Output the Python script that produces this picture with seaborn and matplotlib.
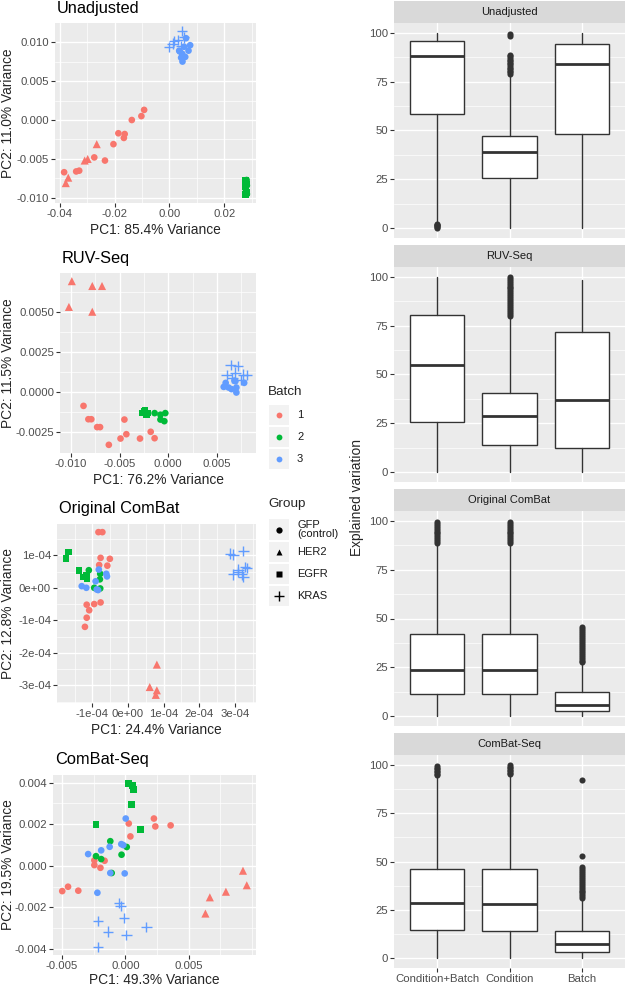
import numpy as np
import pandas as pd
import matplotlib
matplotlib.use("Agg")
import matplotlib.pyplot as plt
from matplotlib.patches import Rectangle
from matplotlib.ticker import AutoMinorLocator
import seaborn as sns

### ------------------- data: PCA scores -------------------------------------------
# order of points in every panel: batch1 GFP, batch1 HER2, batch2 EGFR, batch2 GFP, batch3 GFP, batch3 KRAS
unadj_counts = [12, 5, 6, 6, 10, 7]
unadj_pc1 = [-0.0092, -0.0102, -0.0137, -0.0186, -0.0163, -0.0166, -0.0204, -0.0235, -0.0274, -0.0384, -0.0340, -0.0329,
             -0.0265, -0.0298, -0.0309, -0.0369, -0.0378,
             0.0279, 0.0281, 0.0278, 0.0280, 0.0282, 0.0279,
             0.0282, 0.0280, 0.0283, 0.0278, 0.0281, 0.0283,
             0.0036, 0.0061, 0.0076, 0.0070, 0.0054, 0.0043, 0.0048, 0.0058, 0.0047, 0.0038,
             0.0047, 0.0018, 0.0000, 0.0012, 0.0053, 0.0032, 0.0044]
unadj_pc2 = [0.0013, 0.0005, 0.0000, -0.0017, -0.0018, -0.0023, -0.0031, -0.0052, -0.0048, -0.0067, -0.0066, -0.0065,
             -0.0031, -0.0050, -0.0052, -0.0074, -0.0081,
             -0.0078, -0.0082, -0.0086, -0.0089, -0.0093, -0.0096,
             -0.0077, -0.0080, -0.0084, -0.0088, -0.0091, -0.0095,
             0.0089, 0.0105, 0.0096, 0.0089, 0.0094, 0.0080, 0.0075, 0.0081, 0.0085, 0.0088,
             0.0114, 0.0101, 0.0094, 0.0098, 0.0106, 0.0103, 0.0095]

ruv_counts = [12, 5, 5, 5, 9, 8]
ruv_pc1 = [-0.0087, -0.0082, -0.0079, -0.0073, -0.0070, -0.0061, -0.0049, -0.0045, -0.0043, -0.0029, -0.0018, -0.0014,
           -0.0099, -0.0078, -0.0068, -0.0102, -0.0078,
           -0.0024, -0.0027, -0.0021, -0.0025, -0.0022,
           -0.0014, -0.0008, -0.0003, -0.0008, -0.0004,
           0.0057, 0.0059, 0.0062, 0.0065, 0.0068, 0.0070, 0.0070, 0.0078, 0.0069,
           0.0064, 0.0072, 0.0069, 0.0060, 0.0081, 0.0075, 0.0077, 0.0066]
ruv_pc2 = [-0.00085, -0.00168, -0.00168, -0.00217, -0.00217, -0.00327, -0.00288, -0.0017, -0.00261, -0.00288, -0.00246, -0.00286,
           0.0069, 0.0066, 0.0066, 0.0053, 0.0050,
           -0.0011, -0.0013, -0.0013, -0.0012, -0.0014,
           -0.0013, -0.0014, -0.0013, -0.0017, -0.0018,
           0.00033, 0.00058, 0.00029, 0.00019, 0.00072, 0.00029, -0.00002, 0.00058, 0.00068,
           0.0017, 0.00164, 0.00122, 0.00106, 0.00106, 0.00077, 0.0011, 0.00089]

# Original ComBat values are in units of 1e-4
combat_counts = [12, 4, 6, 5, 8, 10]
combat_pc1 = np.array([-0.83, -0.72, -0.77, -0.51, -0.81, -0.58, -0.77, -0.95, -1.16, -1.09, -1.16, -1.21,
                       0.81, 0.61, 0.81, 0.78,
                       -1.68, -1.74, -1.38, -1.25, -1.17, -1.15,
                       -1.10, -0.78, -0.79, -0.95, -0.78,
                       -0.82, -0.91, -1.30, -1.17, -0.88, -0.84, -0.61, -0.59,
                       2.87, 2.96, 3.24, 3.10, 3.29, 3.34, 2.94, 3.20, 3.24, 3.10]) * 1e-4
combat_pc2 = np.array([1.71, 1.71, 0.92, 0.89, 0.70, 0.68, -0.45, -0.50, -0.52, -0.69, -0.92, -1.20,
                       -2.36, -3.05, -3.15, -3.29,
                       1.10, 0.89, 0.54, 0.33, 0.37, 0.28,
                       0.54, 0.43, 0.26, 0.00, -0.02,
                       0.56, 0.20, 0.05, 0.00, -0.05, -0.07, 0.43, 0.35,
                       1.05, 1.02, 1.14, 0.56, 0.63, 0.60, 0.41, 0.41, 0.34, 0.48]) * 1e-4

cseq_counts = [12, 5, 6, 6, 9, 8]
cseq_pc1 = [0.00027, 0.00226, 0.00237, 0.00358, 0.00040, -0.00245, -0.00245, -0.00164, -0.00197, -0.00453, -0.00372, -0.00499,
            0.0093, 0.0096, 0.00795, 0.00668, 0.00633,
            0.00024, 0.00059, 0.00062, 0.00051, -0.00232, 0.00121,
            -0.00119, 0.00011, -0.0003, -0.00232, -0.00191, -0.00108,
            0.00003, -0.00191, -0.00124, -0.00294, -0.00032, -0.00016, -0.00119, -0.00005, -0.00221,
            -0.00051, -0.00038, -0.00013, -0.00218, -0.00135, 0.00008, 0.00167, -0.00218]
cseq_pc2 = [0.00203, 0.00227, 0.00189, 0.00194, 0.00141, 0.00026, 0.00003, 0.00024, -0.00010, -0.00101, -0.00120, -0.00122,
            -0.00024, -0.00094, -0.00125, -0.00152, -0.0023,
            0.00397, 0.00386, 0.00368, 0.00294, 0.00197, 0.00174,
            0.00118, 0.0009, 0.00053, 0.00046, 0.00032, -0.00035,
            0.00227, 0.00074, 0.00091, 0.00056, 0.00104, 0.00099, -0.00035, -0.00037, -0.0013,
            -0.00178, -0.00194, -0.0025, -0.00266, -0.00317, -0.00333, -0.00294, -0.0039]

cell_order = [("1", "GFP (control)"), ("1", "HER2"), ("2", "EGFR"), ("2", "GFP (control)"), ("3", "GFP (control)"), ("3", "KRAS")]
batch_levels = ["1", "2", "3"]
group_levels = ["GFP (control)", "HER2", "EGFR", "KRAS"]
batch_colors = {"1": "#F8766D", "2": "#00BA38", "3": "#619CFF"}
group_markers = {"GFP (control)": "o", "EGFR": "s"}

pca_titles = ["Unadjusted", "RUV-Seq", "Original ComBat", "ComBat-Seq"]
pc1_labels = ["PC1: 85.4% Variance", "PC1: 76.2% Variance", "PC1: 24.4% Variance", "PC1: 49.3% Variance"]
pc2_labels = ["PC2: 11.0% Variance", "PC2: 11.5% Variance", "PC2: 12.8% Variance", "PC2: 19.5% Variance"]
pca_xticks = [[-0.04, -0.02, 0.0, 0.02], [-0.01, -0.005, 0.0, 0.005],
              [-1e-4, 0.0, 1e-4, 2e-4, 3e-4], [-0.005, 0.0, 0.005]]
pca_xticklabels = [["-0.04", "-0.02", "0.00", "0.02"], ["-0.010", "-0.005", "0.000", "0.005"],
                   ["-1e-04", "0e+00", "1e-04", "2e-04", "3e-04"], ["-0.005", "0.000", "0.005"]]
pca_yticks = [[-0.01, -0.005, 0.0, 0.005, 0.01], [-0.0025, 0.0, 0.0025, 0.005],
              [-3e-4, -2e-4, -1e-4, 0.0, 1e-4], [-0.004, -0.002, 0.0, 0.002, 0.004]]
pca_yticklabels = [["-0.010", "-0.005", "0.000", "0.005", "0.010"], ["-0.0025", "0.0000", "0.0025", "0.0050"],
                   ["-3e-04", "-2e-04", "-1e-04", "0e+00", "1e-04"], ["-0.004", "-0.002", "0.000", "0.002", "0.004"]]

### ------------------- data: explained variation boxplots ----------------------
box_methods = ["Unadjusted", "RUV-Seq", "Original ComBat", "ComBat-Seq"]
box_terms = ["Condition+Batch", "Condition", "Batch"]
box_q1 = [[58.6, 25.6, 48.0], [25.6, 14.1, 12.2], [11.3, 11.3, 2.6], [14.6, 14.2, 3.1]]
box_med = [[88.3, 39.2, 83.8], [54.7, 28.6, 36.7], [23.6, 23.6, 6.0], [28.4, 28.3, 7.5]]
box_q3 = [[95.9, 47.0, 94.2], [80.4, 40.3, 71.5], [42.1, 42.1, 12.5], [46.2, 46.2, 14.2]]
box_lo = [[2.7, 0.0, 0.0], [0.0, 0.0, 0.0], [0.0, 0.0, 0.0], [0.0, 0.0, 0.0]]
box_hi = [[100.0, 78.5, 100.0], [100.0, 79.5, 98.5], [88.0, 88.0, 27.0], [94.0, 94.0, 30.5]]
box_fliers = [
    [[0.3, 0.7, 1.1, 1.5, 1.9, 2.3],
     [79.0, 79.8, 80.6, 81.4, 82.2, 83.0, 83.8, 84.6, 85.4, 86.2, 87.0, 88.0, 88.7, 98.6, 99.3],
     []],
    [[],
     [80.0, 81.0, 82.0, 83.0, 84.0, 85.0, 86.0, 87.0, 88.0, 89.0, 90.0, 91.0, 92.0, 93.0, 94.0, 95.0, 96.0, 97.0, 98.0, 99.0, 99.8],
     []],
    [[88.5, 89.5, 90.5, 91.5, 92.5, 93.5, 94.5, 95.5, 96.5, 97.5, 98.5, 99.5],
     [88.5, 89.5, 90.5, 91.5, 92.5, 93.5, 94.5, 95.5, 96.5, 97.5, 98.5, 99.5],
     [27.5, 28.5, 29.5, 30.5, 31.5, 32.5, 33.5, 34.5, 35.5, 36.5, 37.5, 38.5, 39.5, 40.5, 41.5, 42.5, 43.5, 44.5, 45.5]],
    [[94.5, 95.3, 96.1, 96.9, 97.7, 98.5, 99.3],
     [95.0, 95.8, 96.6, 97.4, 98.2, 99.0, 99.7],
     [31.0, 32.0, 33.0, 34.0, 35.0, 36.0, 37.0, 38.0, 39.0, 40.0, 41.0, 42.0, 43.0, 44.0, 45.0, 46.0, 47.0, 53.0, 92.0]],
]

### ------------------- style ----------------------
sns.set_theme(style="darkgrid")
plt.rcParams["font.family"] = ["Liberation Sans", "DejaVu Sans"]
plt.rcParams["axes.facecolor"] = "#EBEBEB"

W, H = 627, 988
fig = plt.figure(figsize=(W / 100, H / 100), dpi=100)


def px_axes(x0, y0, x1, y1, **kw):
    return fig.add_axes([x0 / W, 1 - y1 / H, (x1 - x0) / W, (y1 - y0) / H], **kw)


def gg_axes(ax):
    ax.set_facecolor("#EBEBEB")
    for s in ax.spines.values():
        s.set_visible(False)
    ax.xaxis.set_minor_locator(AutoMinorLocator(2))
    ax.yaxis.set_minor_locator(AutoMinorLocator(2))
    ax.grid(which="major", color="white", linewidth=1.0)
    ax.grid(which="minor", color="white", linewidth=0.5)
    ax.set_axisbelow(True)
    ax.tick_params(which="major", length=2.8, width=0.8, color="#333333", labelsize=8.2,
                   labelcolor="#4D4D4D", pad=1.5, bottom=True, left=True)
    ax.tick_params(which="minor", length=0)
    ax.set_xlabel("")
    ax.set_ylabel("")


def cell_labels(counts):
    batch, group = [], []
    for (b, g), n in zip(cell_order, counts):
        batch += [b] * n
        group += [g] * n
    return batch, group


### ------------------- PCA panels ----------------------
pca_data = [(unadj_pc1, unadj_pc2, unadj_counts), (ruv_pc1, ruv_pc2, ruv_counts),
            (combat_pc1, combat_pc2, combat_counts), (cseq_pc1, cseq_pc2, cseq_counts)]
pca_boxes = [(55, 23, 256, 203), (60, 273, 256, 453), (57, 524, 256, 703), (53, 775, 256, 955)]
title_y = [9, 259, 509, 759]
xlab_y = [230, 480, 730, 980]

for i, (pc1, pc2, counts) in enumerate(pca_data):
    x0, y0, x1, y1 = pca_boxes[i]
    ax = px_axes(x0, y0, x1, y1)
    batch, group = cell_labels(counts)
    df = pd.DataFrame({"PC1": pc1, "PC2": pc2, "Batch": batch, "Group": group})
    round_sq = df[df.Group.isin(["GFP (control)", "EGFR"])]
    her2 = df[df.Group == "HER2"]
    kras = df[df.Group == "KRAS"]
    sns.scatterplot(data=round_sq, x="PC1", y="PC2", hue="Batch", style="Group", hue_order=batch_levels,
                    style_order=["GFP (control)", "EGFR"], markers=group_markers,
                    palette=batch_colors, s=23, linewidth=0, legend=False, ax=ax)
    sns.scatterplot(data=her2, x="PC1", y="PC2", hue="Batch", hue_order=batch_levels,
                    palette=batch_colors, marker="^", s=34, linewidth=0, legend=False, ax=ax)
    sns.scatterplot(data=kras, x="PC1", y="PC2", hue="Batch", hue_order=batch_levels,
                    palette=batch_colors, marker="+", s=55, linewidth=1.0, legend=False, ax=ax)
    ax.margins(0.05)
    ax.set_xticks(pca_xticks[i])
    ax.set_xticklabels(pca_xticklabels[i])
    ax.set_yticks(pca_yticks[i])
    ax.set_yticklabels(pca_yticklabels[i])
    gg_axes(ax)
    fig.text((x0 + 2) / W, 1 - title_y[i] / H, pca_titles[i], fontsize=11.8, ha="left", va="center", color="black")
    fig.text((x0 + x1) / 2 / W, 1 - xlab_y[i] / H, pc1_labels[i], fontsize=9.9, ha="center", va="center")
    fig.text(8 / W, 1 - (y0 + y1) / 2 / H, pc2_labels[i], fontsize=9.9, ha="center", va="center", rotation=90)

### ------------------- legend ----------------------
lg = fig.add_axes([0, 0, 1, 1], facecolor="none")
lg.set_xlim(0, W)
lg.set_ylim(H, 0)
lg.axis("off")
lg.text(268, 392, "Batch", fontsize=9.7, ha="left", va="center")
for (ky0, ky1), b in zip([(405, 425), (427, 447), (449, 469)], batch_levels):
    lg.add_patch(Rectangle((269, ky0), 20, ky1 - ky0, facecolor="#F2F2F2", edgecolor="none"))
    lg.plot([279], [(ky0 + ky1) / 2], marker="o", ms=4.2, color=batch_colors[b], mec="none")
    lg.text(297, (ky0 + ky1) / 2, b, fontsize=8.0, ha="left", va="center", color="#1A1A1A")
lg.text(268, 504, "Group", fontsize=9.7, ha="left", va="center")
group_text = ["GFP\n(control)", "HER2", "EGFR", "KRAS"]
group_keys = ["o", "^", "s", "+"]
for (ky0, ky1), lab, m in zip([(519, 540), (542, 562), (564, 584), (586, 606)], group_text, group_keys):
    lg.add_patch(Rectangle((269, ky0), 20, ky1 - ky0, facecolor="#F2F2F2", edgecolor="none"))
    lg.plot([279], [(ky0 + ky1) / 2], marker=m, ms=4.5 if m != "+" else 7, color="black",
            mec="black" if m == "+" else "none", mew=1.0)
    lg.text(297, (ky0 + ky1) / 2, lab, fontsize=8.0, ha="left", va="center", color="#1A1A1A", linespacing=0.95)

### ------------------- explained variation facets ----------------------
facet_boxes = [(1, 23, 238), (245, 267, 482), (489, 511, 726), (733, 755, 968)]
for i, method in enumerate(box_methods):
    s0, p0, p1 = facet_boxes[i]
    strip = px_axes(394, s0, 625, p0)
    strip.set_facecolor("#D9D9D9")
    strip.set_xticks([])
    strip.set_yticks([])
    for s in strip.spines.values():
        s.set_visible(False)
    strip.text(0.5, 0.5, method, transform=strip.transAxes, ha="center", va="center",
               fontsize=8.0, color="#1A1A1A")

    ax = px_axes(394, p0, 625, p1)
    stats = []
    for j, term in enumerate(box_terms):
        stats.append({"label": term, "med": box_med[i][j], "q1": box_q1[i][j], "q3": box_q3[i][j],
                      "whislo": box_lo[i][j], "whishi": box_hi[i][j], "fliers": box_fliers[i][j]})
    ax.bxp(stats, positions=[1, 2, 3], widths=0.75, showcaps=False, patch_artist=True,
           boxprops=dict(facecolor="white", edgecolor="#333333", linewidth=1.0),
           medianprops=dict(color="#333333", linewidth=2.0),
           whiskerprops=dict(color="#333333", linewidth=1.0),
           flierprops=dict(marker="o", markerfacecolor="#333333", markeredgecolor="none", markersize=4.4))
    ax.set_xlim(0.4, 3.6)
    ax.set_ylim(-5, 105)
    ax.set_yticks([0, 25, 50, 75, 100])
    ax.set_yticklabels(["0", "25", "50", "75", "100"])
    ax.set_xticks([1, 2, 3])
    ax.set_xticklabels(box_terms)
    gg_axes(ax)
    ax.xaxis.set_minor_locator(matplotlib.ticker.NullLocator())
    if i < 3:
        ax.tick_params(axis="x", which="major", length=0, labelbottom=False)

fig.text(357 / W, 1 - 497 / H, "Explained variation", fontsize=9.9, ha="center", va="center", rotation=90)

fig.savefig("out.png", dpi=100, facecolor="white")
